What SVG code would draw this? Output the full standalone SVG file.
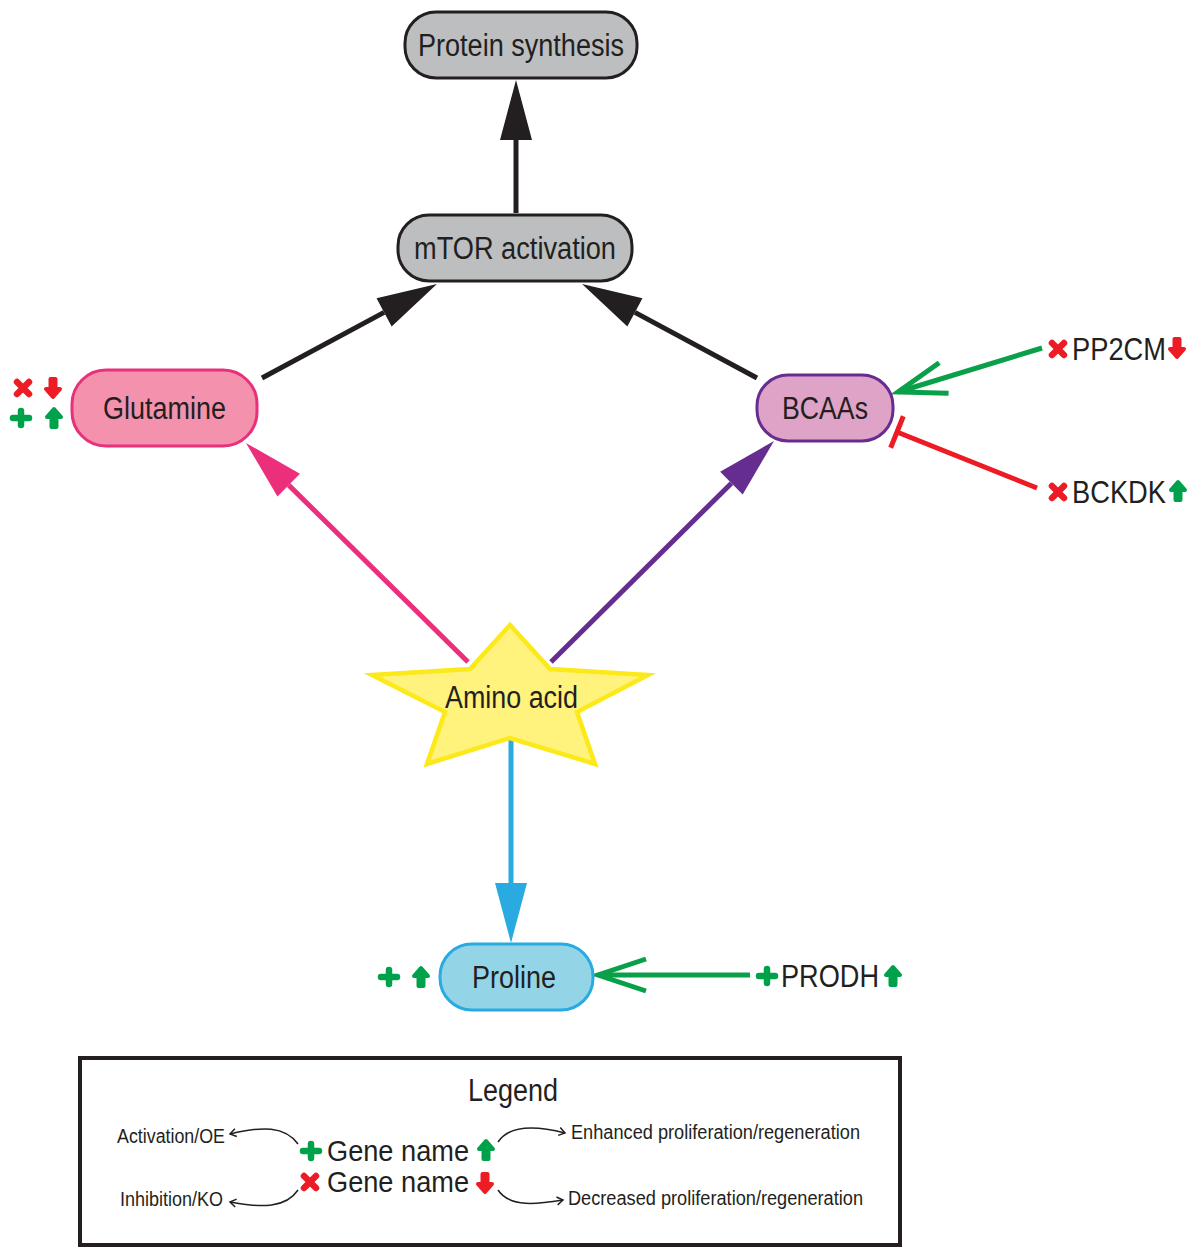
<svg xmlns="http://www.w3.org/2000/svg" xmlns:xlink="http://www.w3.org/1999/xlink" width="1200" height="1258" viewBox="0 0 1200 1258">
<style>
  text { font-family: "Liberation Sans", Arial, sans-serif; fill: #231f20; }
  .lbl { font-size: 31px; text-anchor: middle; }
  .gene { font-size: 31px; }
  .lg { font-size: 29px; }
  .small { font-size: 20px; }
  .node { stroke-width: 3; }
  .conn { fill: none; stroke-width: 5; }
  .thin { fill: none; stroke: #231f20; stroke-width: 1.5; }
</style>
<defs>
  <marker id="ahBlack" markerUnits="userSpaceOnUse" markerWidth="70" markerHeight="40" refX="0" refY="0" viewBox="-5 -20 70 40" orient="auto" overflow="visible">
    <path d="M0,-16 L60,0 L0,16 Z" fill="#231f20"/>
  </marker>
  <marker id="ahPink" markerUnits="userSpaceOnUse" markerWidth="70" markerHeight="40" refX="0" refY="0" viewBox="-5 -20 70 40" orient="auto" overflow="visible">
    <path d="M0,-16 L60,0 L0,16 Z" fill="#ec2f7b"/>
  </marker>
  <marker id="ahPurple" markerUnits="userSpaceOnUse" markerWidth="70" markerHeight="40" refX="0" refY="0" viewBox="-5 -20 70 40" orient="auto" overflow="visible">
    <path d="M0,-16 L60,0 L0,16 Z" fill="#662d91"/>
  </marker>
  <marker id="ahBlue" markerUnits="userSpaceOnUse" markerWidth="70" markerHeight="40" refX="0" refY="0" viewBox="-5 -20 70 40" orient="auto" overflow="visible">
    <path d="M0,-16 L60,0 L0,16 Z" fill="#29abe2"/>
  </marker>
  <marker id="openGreen" markerUnits="userSpaceOnUse" markerWidth="60" markerHeight="40" refX="0" refY="0" viewBox="-55 -20 60 40" orient="auto" overflow="visible">
    <path d="M-48,-16 L0,0 L-48,16" fill="none" stroke="#0aa04a" stroke-width="5"/>
  </marker>
  <marker id="teeRed" markerUnits="userSpaceOnUse" markerWidth="10" markerHeight="40" refX="0" refY="0" viewBox="-5 -20 10 40" orient="auto" overflow="visible">
    <path d="M0,-17 L0,17" stroke="#ed1c24" stroke-width="5"/>
  </marker>
  <marker id="thinHead" markerUnits="userSpaceOnUse" markerWidth="10" markerHeight="10" refX="0" refY="0" viewBox="-8 -5 10 10" orient="auto" overflow="visible">
    <path d="M-6,-4 L0,0 L-6,4" fill="none" stroke="#231f20" stroke-width="1.5"/>
  </marker>
  <path id="plusG" d="M-8,0H8M0,-7V7" stroke="#00a14b" stroke-width="6.5" stroke-linecap="round" fill="none"/>
  <path id="crossR" d="M-6,-6L6,6M6,-6L-6,6" stroke="#ed1c24" stroke-width="6.5" stroke-linecap="round" fill="none"/>
  <path id="upG" d="M0,-9 L7,-1 L2.5,-1 L2.5,9 L-2.5,9 L-2.5,-1 L-7,-1 Z" fill="#00a14b" stroke="#00a14b" stroke-width="4" stroke-linejoin="round"/>
  <path id="downR" d="M0,9 L7,1 L2.5,1 L2.5,-9 L-2.5,-9 L-2.5,1 L-7,1 Z" fill="#ed1c24" stroke="#ed1c24" stroke-width="4" stroke-linejoin="round"/>
</defs>

<rect width="1200" height="1258" fill="#ffffff"/>

<g id="connectors">
  <line class="conn" x1="516" y1="213" x2="516" y2="140" stroke="#231f20" marker-end="url(#ahBlack)"/>
  <line class="conn" x1="262" y1="378" x2="384.1" y2="312.4" stroke="#231f20" marker-end="url(#ahBlack)"/>
  <line class="conn" x1="757" y1="378" x2="634.9" y2="312.4" stroke="#231f20" marker-end="url(#ahBlack)"/>
  <line class="conn" x1="468" y1="662" x2="288.7" y2="485.1" stroke="#ec2f7b" marker-end="url(#ahPink)"/>
  <line class="conn" x1="551" y1="662" x2="731.4" y2="483.2" stroke="#662d91" marker-end="url(#ahPurple)"/>
  <line class="conn" x1="511" y1="740" x2="511" y2="883" stroke="#29abe2" marker-end="url(#ahBlue)"/>
  <line class="conn" x1="1042" y1="348" x2="898" y2="392" stroke="#0aa04a" marker-end="url(#openGreen)"/>
  <line class="conn" x1="1037" y1="488" x2="897" y2="432" stroke="#ed1c24" marker-end="url(#teeRed)"/>
  <line class="conn" x1="750" y1="975" x2="598" y2="975" stroke="#0aa04a" marker-end="url(#openGreen)"/>
</g>

<g id="protein-synthesis">
  <rect class="node" x="405" y="12" width="232" height="66" rx="31" fill="#bcbec0" stroke="#231f20"/>
  <text class="lbl" x="521" y="56" textLength="206" lengthAdjust="spacingAndGlyphs">Protein synthesis</text>
</g>

<g id="mtor-activation">
  <rect class="node" x="398" y="215" width="234" height="66" rx="31" fill="#bcbec0" stroke="#231f20"/>
  <text class="lbl" x="515" y="259" textLength="202" lengthAdjust="spacingAndGlyphs">mTOR activation</text>
</g>

<g id="glutamine">
  <rect class="node" x="72" y="370" width="185" height="76" rx="34" fill="#f491ad" stroke="#e8317a" stroke-width="2.5"/>
  <text class="lbl" x="164.5" y="419" textLength="123" lengthAdjust="spacingAndGlyphs">Glutamine</text>
  <use href="#crossR" x="23" y="388"/>
  <use href="#downR" x="53" y="388"/>
  <use href="#plusG" x="21" y="418"/>
  <use href="#upG" x="54" y="418"/>
</g>

<g id="bcaas">
  <rect class="node" x="757" y="375" width="136" height="66" rx="31" fill="#dfa3c8" stroke="#662d91"/>
  <text class="lbl" x="825" y="419" textLength="86" lengthAdjust="spacingAndGlyphs">BCAAs</text>
</g>

<g id="amino-acid">
  <polygon points="510,625 550,669 648,675 577,712 595,764 510,738 427,764 445,712 372,675 470,669" fill="#fff27d" stroke="#fce919" stroke-width="4.5" stroke-linejoin="miter"/>
  <text class="lbl" x="511.5" y="708" textLength="133" lengthAdjust="spacingAndGlyphs">Amino acid</text>
</g>

<g id="proline">
  <rect class="node" x="440" y="944" width="153" height="66" rx="32" fill="#93d5e6" stroke="#29abe2"/>
  <text class="lbl" x="514" y="988" textLength="84" lengthAdjust="spacingAndGlyphs">Proline</text>
  <use href="#plusG" x="389" y="977"/>
  <use href="#upG" x="421" y="977"/>
</g>

<g id="pp2cm">
  <use href="#crossR" x="1058" y="349"/>
  <text class="gene" x="1072" y="360" textLength="94" lengthAdjust="spacingAndGlyphs">PP2CM</text>
  <use href="#downR" x="1177" y="348"/>
</g>

<g id="bckdk">
  <use href="#crossR" x="1058" y="492"/>
  <text class="gene" x="1072" y="503" textLength="94" lengthAdjust="spacingAndGlyphs">BCKDK</text>
  <use href="#upG" x="1178" y="491"/>
</g>

<g id="prodh">
  <use href="#plusG" x="767" y="976"/>
  <text class="gene" x="781" y="987" textLength="98" lengthAdjust="spacingAndGlyphs">PRODH</text>
  <use href="#upG" x="893" y="976"/>
</g>

<g id="legend">
  <rect x="80" y="1058" width="820" height="187" fill="none" stroke="#231f20" stroke-width="4"/>
  <text class="lbl" x="513" y="1101" textLength="90" lengthAdjust="spacingAndGlyphs">Legend</text>
  <use href="#plusG" x="311" y="1151"/>
  <text class="lg" x="327" y="1161" textLength="142" lengthAdjust="spacingAndGlyphs">Gene name</text>
  <use href="#upG" x="486" y="1150"/>
  <use href="#crossR" x="310" y="1182"/>
  <text class="lg" x="327" y="1192" textLength="142" lengthAdjust="spacingAndGlyphs">Gene name</text>
  <use href="#downR" x="485" y="1183"/>
  <text class="small" x="117" y="1143" textLength="108" lengthAdjust="spacingAndGlyphs">Activation/OE</text>
  <text class="small" x="120" y="1206" textLength="103" lengthAdjust="spacingAndGlyphs">Inhibition/KO</text>
  <text class="small" x="571" y="1139" textLength="289" lengthAdjust="spacingAndGlyphs">Enhanced proliferation/regeneration</text>
  <text class="small" x="568" y="1205" textLength="295" lengthAdjust="spacingAndGlyphs">Decreased proliferation/regeneration</text>
  <path class="thin" d="M298,1144 C285,1126 262,1126 230,1134" marker-end="url(#thinHead)"/>
  <path class="thin" d="M298,1190 C286,1208 262,1208 230,1202" marker-end="url(#thinHead)"/>
  <path class="thin" d="M498,1142 C510,1124 538,1126 565,1133" marker-end="url(#thinHead)"/>
  <path class="thin" d="M498,1190 C510,1208 538,1204 563,1200" marker-end="url(#thinHead)"/>
</g>
</svg>
